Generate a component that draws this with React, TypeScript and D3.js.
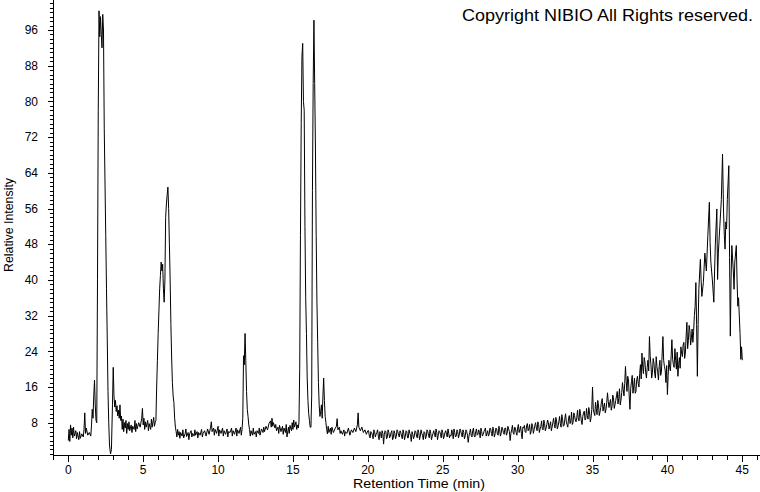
import React from "react";
import * as d3 from "d3";

const width = 760;
const height = 492;

// axis ticks
const xTickLabels = [0, 5, 10, 15, 20, 25, 30, 35, 40, 45];
const yTickLabels = [8, 16, 24, 32, 40, 48, 56, 64, 72, 80, 88, 96];

// retention time (min), relative intensity
const trace: [number, number][] = [
  [0.0, 4.0], [0.05, 6.5], [0.1, 3.8], [0.15, 7.5], [0.2, 5.2], [0.25, 6.8], [0.3, 4.6], [0.35, 7.0],
  [0.4, 5.0], [0.5, 6.2], [0.55, 4.4], [0.6, 5.8], [0.7, 4.2], [0.75, 6.0], [0.8, 4.5], [0.9, 5.5],
  [1.0, 4.8], [1.05, 6.5], [1.1, 10.2], [1.15, 5.6], [1.2, 6.8], [1.3, 5.2], [1.4, 5.8], [1.5, 5.0],
  [1.55, 7.5], [1.6, 11.0], [1.65, 9.0], [1.7, 14.0], [1.75, 17.5], [1.8, 12.0], [1.85, 8.5], [1.9, 8.0],
  [1.95, 40.0], [2.0, 78.0], [2.05, 100.3], [2.1, 94.5], [2.15, 99.0], [2.2, 95.0], [2.25, 92.0],
  [2.3, 99.5], [2.35, 96.0], [2.4, 74.0], [2.5, 50.0], [2.55, 38.0], [2.6, 27.0], [2.65, 15.0],
  [2.7, 8.0], [2.75, 3.0], [2.82, 1.0], [2.88, 2.0], [2.95, 12.0], [3.0, 20.4], [3.05, 14.0],
  [3.1, 11.5], [3.15, 13.0], [3.2, 10.5], [3.25, 11.8], [3.3, 9.5], [3.35, 10.8], [3.4, 9.0],
  [3.45, 12.0], [3.5, 8.5], [3.55, 9.5], [3.6, 6.5], [3.65, 8.8], [3.7, 6.0], [3.75, 8.0], [3.8, 6.8],
  [3.85, 8.5], [3.9, 5.6], [3.95, 7.8], [4.0, 6.5], [4.05, 8.2], [4.1, 6.2], [4.2, 7.5], [4.25, 5.8],
  [4.3, 7.2], [4.4, 6.5], [4.45, 8.5], [4.5, 6.0], [4.55, 7.8], [4.6, 6.6], [4.7, 8.0], [4.8, 7.0],
  [4.9, 9.0], [4.95, 11.2], [5.0, 7.5], [5.05, 9.0], [5.1, 6.5], [5.15, 8.2], [5.2, 7.0], [5.3, 8.5],
  [5.35, 6.2], [5.4, 7.8], [5.5, 6.5], [5.55, 8.8], [5.6, 7.0], [5.7, 9.2], [5.75, 7.2], [5.8, 8.0],
  [5.85, 8.5], [5.9, 16.0], [5.95, 22.0], [6.0, 28.0], [6.05, 33.0], [6.1, 38.0], [6.15, 41.0],
  [6.2, 44.0], [6.25, 42.0], [6.3, 43.5], [6.35, 38.0], [6.4, 35.0], [6.45, 40.0], [6.5, 54.0],
  [6.55, 57.0], [6.6, 59.0], [6.65, 60.8], [6.7, 56.0], [6.75, 48.0], [6.8, 40.0], [6.85, 30.0],
  [6.9, 22.5], [6.95, 17.0], [7.0, 14.0], [7.05, 12.5], [7.1, 9.0], [7.15, 7.0], [7.2, 6.0],
  [7.25, 4.8], [7.3, 6.5], [7.35, 5.2], [7.4, 6.0], [7.45, 4.5], [7.5, 5.8], [7.6, 5.0], [7.65, 6.4],
  [7.7, 4.6], [7.8, 5.5], [7.85, 6.6], [7.9, 4.9], [8.0, 5.8], [8.05, 4.2], [8.1, 5.5], [8.2, 6.2],
  [8.25, 4.8], [8.3, 5.6], [8.4, 5.0], [8.45, 6.4], [8.5, 5.2], [8.6, 6.0], [8.65, 4.6], [8.7, 5.8],
  [8.8, 5.2], [8.9, 6.5], [8.95, 4.8], [9.0, 5.6], [9.1, 6.2], [9.2, 5.0], [9.3, 6.6], [9.4, 5.4],
  [9.5, 7.0], [9.55, 8.2], [9.6, 6.0], [9.7, 6.8], [9.75, 5.2], [9.8, 6.5], [9.9, 5.6], [10.0, 7.2],
  [10.05, 5.0], [10.1, 6.4], [10.2, 5.6], [10.3, 6.8], [10.35, 5.0], [10.4, 6.2], [10.5, 5.4],
  [10.6, 6.6], [10.65, 4.8], [10.7, 6.0], [10.8, 5.8], [10.9, 6.8], [10.95, 5.0], [11.0, 6.2],
  [11.1, 5.4], [11.2, 6.8], [11.25, 5.0], [11.3, 6.4], [11.4, 5.6], [11.5, 7.0], [11.55, 5.2],
  [11.6, 6.5], [11.65, 9.0], [11.7, 23.0], [11.75, 21.0], [11.8, 28.0], [11.85, 22.0], [11.9, 15.0],
  [11.95, 11.0], [12.0, 9.4], [12.05, 7.5], [12.1, 6.5], [12.15, 5.0], [12.2, 6.2], [12.3, 5.2],
  [12.35, 6.8], [12.4, 5.4], [12.5, 6.0], [12.55, 4.8], [12.6, 6.2], [12.7, 5.6], [12.75, 6.8],
  [12.8, 5.2], [12.9, 6.6], [13.0, 5.8], [13.05, 7.0], [13.1, 6.0], [13.2, 7.2], [13.3, 6.4],
  [13.4, 7.8], [13.5, 8.4], [13.55, 7.0], [13.6, 9.0], [13.65, 7.2], [13.7, 8.0], [13.8, 6.8],
  [13.85, 7.6], [13.9, 6.2], [14.0, 7.0], [14.05, 5.6], [14.1, 7.4], [14.2, 6.0], [14.3, 7.2],
  [14.35, 5.4], [14.4, 6.8], [14.5, 5.8], [14.55, 7.6], [14.6, 4.8], [14.7, 7.0], [14.75, 5.6],
  [14.8, 7.4], [14.9, 6.2], [14.95, 8.0], [15.0, 6.5], [15.05, 8.6], [15.1, 7.0], [15.2, 8.2],
  [15.25, 6.5], [15.3, 7.5], [15.35, 6.8], [15.4, 8.0], [15.45, 20.0], [15.5, 50.0], [15.55, 75.0],
  [15.6, 90.0], [15.65, 93.0], [15.7, 80.0], [15.75, 78.0], [15.8, 52.0], [15.85, 36.0], [15.9, 28.0],
  [15.95, 18.0], [16.0, 13.0], [16.05, 10.0], [16.1, 8.5], [16.15, 7.0], [16.2, 7.0], [16.25, 14.0],
  [16.3, 60.0], [16.35, 84.0], [16.4, 98.2], [16.45, 84.0], [16.5, 70.0], [16.55, 50.0], [16.6, 35.0],
  [16.65, 26.0], [16.7, 17.0], [16.75, 12.0], [16.8, 9.4], [16.85, 10.5], [16.9, 12.0], [16.95, 9.0],
  [17.0, 14.0], [17.05, 18.0], [17.1, 13.0], [17.15, 9.4], [17.2, 8.0], [17.25, 6.5], [17.3, 5.5],
  [17.35, 7.2], [17.4, 5.8], [17.5, 6.8], [17.55, 5.4], [17.6, 7.0], [17.7, 5.8], [17.8, 6.6],
  [17.9, 7.2], [17.95, 8.9], [18.0, 6.4], [18.1, 7.0], [18.15, 5.6], [18.2, 6.2], [18.3, 5.4],
  [18.4, 6.4], [18.45, 5.0], [18.5, 6.0], [18.6, 5.6], [18.7, 6.8], [18.8, 5.2], [18.9, 6.4],
  [19.0, 5.8], [19.1, 6.8], [19.2, 6.0], [19.3, 7.5], [19.35, 10.2], [19.4, 7.0], [19.5, 6.2],
  [19.6, 7.0], [19.7, 5.8], [19.8, 6.4], [19.9, 5.4], [20.0, 6.2], [20.1, 5.0], [20.2, 6.0],
  [20.3, 5.2], [20.4, 6.4], [20.5, 4.8], [20.6, 5.8], [20.7, 5.0], [20.8, 6.0], [20.9, 4.6],
  [21.0, 5.6], [21.05, 3.2], [21.1, 5.4], [21.2, 6.0], [21.3, 4.8], [21.4, 5.8], [21.5, 5.0],
  [21.6, 6.2], [21.7, 4.6], [21.8, 5.6], [21.9, 5.0], [22.0, 6.0], [22.1, 4.8], [22.2, 5.8],
  [22.3, 4.4], [22.4, 5.6], [22.5, 5.0], [22.6, 6.0], [22.7, 4.6], [22.8, 5.6], [22.9, 3.8],
  [23.0, 5.4], [23.1, 5.0], [23.2, 6.0], [23.3, 4.6], [23.4, 5.8], [23.5, 5.0], [23.6, 5.6],
  [23.7, 4.2], [23.8, 5.8], [23.9, 5.0], [24.0, 6.0], [24.1, 4.6], [24.2, 5.6], [24.3, 5.0],
  [24.4, 6.2], [24.5, 4.8], [24.6, 5.8], [24.7, 5.2], [24.8, 6.0], [24.9, 4.6], [25.0, 5.8],
  [25.1, 5.0], [25.2, 6.2], [25.3, 4.8], [25.4, 5.6], [25.5, 5.2], [25.6, 6.4], [25.7, 4.4],
  [25.8, 5.8], [25.9, 5.0], [26.0, 6.0], [26.1, 5.2], [26.2, 6.2], [26.3, 4.8], [26.4, 5.8],
  [26.5, 5.0], [26.6, 6.0], [26.7, 3.6], [26.8, 5.8], [26.9, 5.2], [27.0, 6.2], [27.1, 5.0],
  [27.2, 6.0], [27.3, 5.2], [27.4, 6.4], [27.5, 4.6], [27.6, 6.0], [27.7, 5.4], [27.8, 6.4],
  [27.9, 5.0], [28.0, 6.2], [28.1, 5.4], [28.2, 6.6], [28.3, 5.0], [28.4, 6.2], [28.5, 5.6],
  [28.6, 6.6], [28.7, 5.2], [28.8, 6.4], [28.9, 5.6], [29.0, 6.6], [29.1, 5.4], [29.2, 6.8],
  [29.3, 5.6], [29.4, 6.6], [29.5, 4.0], [29.6, 6.4], [29.7, 5.8], [29.8, 7.0], [29.9, 5.8],
  [30.0, 6.8], [30.1, 5.8], [30.2, 7.2], [30.3, 4.4], [30.4, 6.8], [30.5, 6.0], [30.6, 7.4],
  [30.7, 6.2], [30.8, 7.6], [30.9, 6.0], [31.0, 7.2], [31.1, 6.4], [31.2, 8.0], [31.3, 6.2],
  [31.4, 7.6], [31.5, 6.6], [31.6, 8.4], [31.7, 6.4], [31.8, 7.8], [31.9, 6.8], [32.0, 8.6],
  [32.1, 6.6], [32.2, 8.2], [32.3, 7.0], [32.4, 9.0], [32.5, 6.8], [32.6, 8.4], [32.7, 7.2],
  [32.8, 9.4], [32.9, 7.0], [33.0, 8.8], [33.1, 7.4], [33.2, 10.0], [33.3, 7.6], [33.4, 9.0],
  [33.5, 7.8], [33.6, 10.4], [33.7, 8.0], [33.8, 9.6], [33.9, 8.2], [34.0, 10.8], [34.1, 8.4],
  [34.2, 10.0], [34.3, 7.6], [34.4, 10.2], [34.5, 8.6], [34.6, 11.2], [34.7, 8.8], [34.8, 10.4],
  [34.9, 9.0], [35.0, 16.0], [35.05, 11.0], [35.1, 10.2], [35.2, 12.6], [35.3, 9.8], [35.4, 12.0],
  [35.5, 10.4], [35.6, 12.8], [35.7, 10.6], [35.8, 12.4], [35.9, 11.0], [36.0, 14.7], [36.1, 11.4],
  [36.2, 13.2], [36.3, 11.6], [36.4, 13.6], [36.5, 12.0], [36.6, 14.0], [36.7, 12.2], [36.8, 15.6],
  [36.9, 13.0], [37.0, 17.0], [37.1, 14.0], [37.2, 20.6], [37.3, 15.0], [37.4, 17.6], [37.5, 11.0],
  [37.6, 17.2], [37.7, 14.6], [37.8, 18.0], [37.9, 15.0], [38.0, 18.4], [38.1, 16.0], [38.2, 21.0],
  [38.3, 23.6], [38.4, 19.0], [38.5, 21.6], [38.6, 18.0], [38.7, 22.0], [38.8, 27.3], [38.9, 21.0],
  [39.0, 19.2], [39.1, 21.4], [39.2, 18.0], [39.3, 20.6], [39.4, 17.6], [39.5, 22.0], [39.6, 19.4],
  [39.7, 27.3], [39.8, 20.6], [39.9, 17.0], [40.0, 14.3], [40.1, 22.0], [40.2, 19.6], [40.3, 26.6],
  [40.4, 21.0], [40.5, 24.6], [40.6, 20.0], [40.7, 18.4], [40.8, 22.6], [40.9, 25.0], [41.0, 22.8],
  [41.1, 26.0], [41.2, 23.6], [41.3, 30.5], [41.4, 26.4], [41.5, 28.6], [41.6, 27.0], [41.7, 26.0],
  [41.8, 32.0], [41.9, 39.4], [42.0, 18.4], [42.05, 30.0], [42.1, 38.0], [42.2, 44.6], [42.25, 40.0],
  [42.3, 36.3], [42.4, 39.4], [42.5, 46.0], [42.6, 42.0], [42.7, 50.0], [42.8, 57.4], [42.85, 48.4],
  [42.9, 44.0], [43.0, 40.0], [43.1, 35.0], [43.15, 42.0], [43.2, 48.0], [43.3, 55.9], [43.35, 40.1],
  [43.4, 46.0], [43.5, 52.0], [43.6, 58.0], [43.68, 68.2], [43.75, 55.0], [43.8, 50.0], [43.85, 46.9],
  [43.9, 53.0], [43.95, 51.4], [44.0, 58.0], [44.1, 65.6], [44.15, 45.0], [44.2, 27.4], [44.25, 40.0],
  [44.3, 47.7], [44.4, 42.0], [44.45, 37.9], [44.5, 44.0], [44.6, 47.7], [44.65, 40.0], [44.7, 34.1],
  [44.75, 36.0], [44.8, 31.9], [44.85, 28.0], [44.9, 22.2], [44.95, 25.0], [45.0, 22.0],
];

// extra scans read from the dense noisy stretches (20-42 min)
const traceFine: [number, number][] = [
  [20.05, 6.2], [20.15, 4.6], [20.25, 5.8], [20.35, 4.4], [20.45, 6.0], [20.55, 5.4], [20.65, 6.4],
  [20.75, 4.2], [20.85, 5.6], [20.95, 6.2], [21.15, 6.2], [21.25, 4.4], [21.35, 6.4], [21.45, 4.6],
  [21.55, 5.8], [21.65, 4.2], [21.75, 6.2], [21.85, 4.4], [21.95, 6.4], [22.05, 5.2], [22.15, 6.2],
  [22.25, 5.0], [22.35, 6.4], [22.45, 4.2], [22.55, 6.2], [22.65, 4.6], [22.75, 6.4], [22.85, 5.2],
  [22.95, 6.0], [23.05, 4.4], [23.15, 6.2], [23.25, 5.0], [23.35, 6.4], [23.45, 4.2], [23.55, 6.4],
  [23.65, 5.2], [23.75, 6.0], [23.85, 4.4], [23.95, 6.4], [24.05, 5.2], [24.15, 6.4], [24.25, 4.2],
  [24.35, 5.6], [24.45, 5.4], [24.55, 6.6], [24.65, 4.2], [24.75, 6.2], [24.85, 5.4], [24.95, 6.4],
  [25.05, 4.4], [25.15, 5.8], [25.25, 5.4], [25.35, 6.6], [25.45, 4.6], [25.55, 5.0], [25.65, 5.8],
  [25.75, 6.6], [25.85, 4.8], [25.95, 6.4], [26.05, 4.6], [26.15, 6.6], [26.25, 5.4], [26.35, 6.4],
  [26.45, 4.4], [26.55, 6.4], [26.65, 5.2], [26.75, 5.0], [26.85, 6.6], [26.95, 4.8], [27.05, 6.8],
  [27.15, 4.8], [27.25, 6.6], [27.35, 5.4], [27.45, 5.8], [27.55, 6.8], [27.65, 5.0], [27.75, 6.0],
  [27.85, 6.8], [27.95, 5.6], [28.05, 5.0], [28.15, 6.8], [28.25, 5.6], [28.35, 7.0], [28.45, 4.8],
  [28.55, 6.8], [28.65, 5.4], [28.75, 7.2], [28.85, 5.0], [28.95, 7.0], [29.05, 5.8], [29.15, 6.8],
  [29.25, 5.2], [29.35, 7.2], [29.45, 6.0], [29.55, 5.6], [29.65, 7.4], [29.75, 5.4], [29.85, 6.8],
  [29.95, 5.2], [30.05, 7.6], [30.15, 6.4], [30.25, 5.6], [30.35, 7.0], [30.45, 7.4], [30.55, 5.8],
  [30.65, 7.8], [30.75, 6.6], [30.85, 5.4], [30.95, 7.8], [31.05, 5.6], [31.15, 7.4], [31.25, 6.8],
  [31.35, 8.2], [31.45, 5.8], [31.55, 7.2], [31.65, 6.6], [31.75, 8.6], [31.85, 6.2], [31.95, 7.6],
  [32.05, 8.0], [32.15, 7.4], [32.25, 6.2], [32.35, 8.0], [32.45, 7.6], [32.55, 9.2], [32.65, 6.6],
  [32.75, 8.2], [32.85, 7.8], [32.95, 9.8], [33.05, 7.2], [33.15, 8.8], [33.25, 8.2], [33.35, 7.0],
  [33.45, 9.6], [33.55, 8.4], [33.65, 7.6], [33.75, 10.2], [33.85, 8.6], [33.95, 9.2], [34.05, 8.8],
  [34.15, 11.0], [34.25, 8.4], [34.35, 9.4], [34.45, 10.6], [34.55, 9.0], [34.65, 9.6], [34.75, 11.4],
  [34.85, 8.2], [34.95, 11.0], [35.15, 9.6], [35.25, 11.2], [35.35, 13.0], [35.45, 9.6], [35.55, 11.4],
  [35.65, 13.4], [35.75, 11.6], [35.85, 10.2], [35.95, 12.6], [36.05, 12.8], [36.15, 12.4],
  [36.25, 10.8], [36.35, 14.2], [36.45, 11.2], [36.55, 13.0], [36.65, 15.0], [36.75, 13.4],
  [36.85, 12.0], [36.95, 14.8], [37.05, 15.4], [37.15, 16.8], [37.25, 17.2], [37.35, 18.4],
  [37.45, 14.0], [37.55, 15.6], [37.65, 18.6], [37.75, 16.2], [37.85, 14.6], [37.95, 17.6],
  [38.05, 16.8], [38.15, 19.0], [38.25, 17.8], [38.35, 20.4], [38.45, 22.6], [38.55, 19.2],
  [38.65, 20.4], [38.75, 19.6], [38.85, 23.0], [38.95, 18.0], [39.05, 22.4], [39.15, 19.0],
  [39.25, 22.8], [39.35, 19.4], [39.45, 20.6], [39.55, 18.6], [39.65, 23.4], [39.75, 22.0],
  [39.85, 19.8], [39.95, 20.8], [40.05, 18.6], [40.15, 20.4], [40.25, 23.0], [40.35, 22.2],
  [40.45, 20.4], [40.55, 22.0], [40.65, 23.8], [40.75, 21.0], [40.85, 20.2], [40.95, 23.6],
  [41.05, 25.4], [41.15, 22.4], [41.25, 27.4], [41.35, 24.6], [41.45, 29.8], [41.55, 25.4],
  [41.65, 29.0], [41.75, 28.4], [41.85, 34.0], [41.95, 30.0],
];

const scans = d3.sort(trace.concat(traceFine), (d) => d[0]);

const axisX = 53;
const axisY = 455;

const xScale = d3.scaleLinear([0, 45], [68.3, 742.3]);
const yScale = d3.scaleLinear([8, 96], [422.7, 30]);

const xMinor = d3.range(-1, 47).filter((t) => xScale(t) >= axisX && xScale(t) <= width);
const yMinor = d3.range(1, 103).filter((v) => yScale(v) <= axisY && yScale(v) >= 0);

const font = "'Liberation Sans', Arial, sans-serif";

export default function App() {
  const line = d3
    .line<[number, number]>()
    .x((d) => xScale(d[0]))
    .y((d) => yScale(d[1]));

  return (
    <svg
      width={width}
      height={height}
      style={{ position: "absolute", left: 0, top: 0, background: "#fff" }}
      fontFamily={font}
    >
      <rect width={width} height={height} fill="#fff" />
      <g shapeRendering="crispEdges" stroke="#000">
        <line x1={axisX + 0.5} x2={axisX + 0.5} y1={0} y2={axisY} />
        <line x1={axisX} x2={width} y1={axisY + 0.5} y2={axisY + 0.5} />
        {yMinor.map((v) => (
          <line
            key={"y" + v}
            x1={v % 8 === 0 ? axisX - 5 : axisX - 3}
            x2={axisX}
            y1={Math.round(yScale(v)) + 0.5}
            y2={Math.round(yScale(v)) + 0.5}
          />
        ))}
        {xMinor.map((t) => (
          <line
            key={"x" + t}
            x1={Math.round(xScale(t)) + 0.5}
            x2={Math.round(xScale(t)) + 0.5}
            y1={axisY}
            y2={t % 5 === 0 ? axisY + 7 : axisY + 5}
          />
        ))}
      </g>
      <g fontSize={12} fill="#000">
        {yTickLabels.map((v) => (
          <text key={v} x={38} y={yScale(v)} dy="0.35em" textAnchor="end">
            {v}
          </text>
        ))}
        {xTickLabels.map((t) => (
          <text key={t} x={xScale(t)} y={474} textAnchor="middle">
            {t}
          </text>
        ))}
      </g>
      <text x={353} y={488} fontSize={13} textLength={132} lengthAdjust="spacingAndGlyphs">
        Retention Time (min)
      </text>
      <text
        transform="translate(13,272) rotate(-90)"
        fontSize={12}
        textLength={94}
        lengthAdjust="spacingAndGlyphs"
      >
        Relative Intensity
      </text>
      <text x={462} y={21} fontSize={17} textLength={291} lengthAdjust="spacingAndGlyphs">
        Copyright NIBIO All Rights reserved.
      </text>
      <path d={line(scans) ?? ""} fill="none" stroke="#000" strokeWidth={1} strokeLinejoin="round" />
    </svg>
  );
}
